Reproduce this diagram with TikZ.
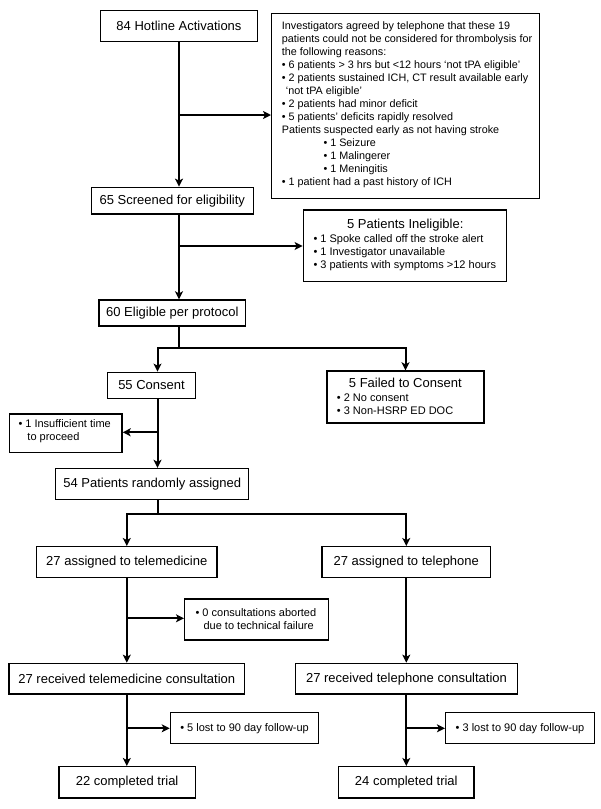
\documentclass[tikz,border=0pt]{standalone}
\usepackage{fontspec}
\setmainfont{Liberation Sans}
\usetikzlibrary{arrows.meta}
\newcommand\fbig{\fontsize{13}{15}\selectfont}
\newcommand\fsmall{\fontsize{11}{12.8}\selectfont}
\newcommand\fmid{\fontsize{10.8}{13.06}\selectfont}
\begin{document}
\begin{tikzpicture}[x=1pt,y=-1pt,
  box/.style 2 args={draw, line width=1.4pt, inner sep=0pt, minimum width=#1pt, minimum height=#2pt, font=\fbig},
  sm/.style={font=\fsmall, align=left, inner sep=0pt},
  md/.style={font=\fmid, align=left, inner sep=0pt},
  ttl/.style={font=\fbig, inner sep=0pt},
  ln/.style={line width=2pt},
  arr/.style={line width=2pt, -{Stealth[length=8pt,width=8pt,inset=2pt]}},
  arrb/.style={line width=2pt, {Stealth[length=8pt,width=8pt,inset=2pt]}-{Stealth[length=8pt,width=8pt,inset=2pt]}}]
\useasboundingbox (0,0) rectangle (601,809);
% boxes
\node[box={156.6}{30.6}] (hot) at (179,26) {84 Hotline Activations};
\node[box={267.6}{185}] (why) at (405.5,105.8) {};
\node[md, anchor=west] (whyT) at (281.7,104.6) {Investigators agreed by telephone that these 19\\
patients could not be considered for thrombolysis for\\
the following reasons:\\
• 6 patients > 3 hrs but <12 hours ‘not tPA eligible’\\
• 2 patients sustained ICH, CT result available early\\
\hspace*{4pt}‘not tPA eligible’\\
• 2 patients had minor deficit\\
• 5 patients’ deficits rapidly resolved\\
Patients suspected early as not having stroke\\
\hspace*{41.6pt}• 1 Seizure\\
\hspace*{41.6pt}• 1 Malingerer\\
\hspace*{41.6pt}• 1 Meningitis\\
• 1 patient had a past history of ICH};
\node[box={162}{26.7}] (scr) at (172.3,200.7) {65 Screened for eligibility};
\node[box={203.4}{71.7}] (inel) at (405,245.8) {};
\node[ttl] (inelT) at (405.3,225) {5 Patients Ineligible:};
\node[sm, anchor=west] (inelB) at (313.3,252.5) {• 1 Spoke called off the stroke alert\\• 1 Investigator unavailable\\• 3 patients with symptoms >12 hours};
\node[box={146.7}{26}] (elig) at (172.3,313) {60 Eligible per protocol};
\node[box={87.5}{26.2}] (cons) at (151.5,385.4) {55 Consent};
\node[box={157}{52}] (fail) at (405.5,397) {};
\node[ttl] (failT) at (405.3,383.3) {5 Failed to Consent};
\node[sm, anchor=west] (failB) at (336.7,404.2) {• 2 No consent\\• 3 Non-HSRP ED DOC};
\node[box={112.8}{38.3}] (insf) at (65.6,433.2) {};
\node[sm, anchor=west] (insfT) at (18.3,431.5) {• 1 Insufficient time\\\hspace*{9pt}to proceed};
\node[box={193}{31}] (rand) at (152.2,484) {54 Patients randomly assigned};
\node[box={180.3}{30.6}] (tele) at (126.8,562) {27 assigned to telemedicine};
\node[box={168.7}{30.6}] (phon) at (406.3,562) {27 assigned to telephone};
\node[box={144}{41}] (abrt) at (256.7,619.5) {};
\node[sm, anchor=west] (abrtT) at (195.4,619.2) {• 0 consultations aborted\\\hspace*{8pt}due to technical failure};
\node[box={235.7}{30.7}] (rtel) at (126.8,678.7) {27 received telemedicine consultation};
\node[box={222.3}{30.7}] (rpho) at (406.5,678.7) {27 received telephone consultation};
\node[box={148.3}{31}, font=\fsmall] (lst5) at (244.6,728.2) {• 5 lost to 90 day follow-up};
\node[box={148.7}{31}, font=\fsmall] (lst3) at (520,728.2) {• 3 lost to 90 day follow-up};
\node[box={136.2}{31.3}] (d22) at (127.1,782.3) {22 completed trial};
\node[box={135.7}{31.3}] (d24) at (406.3,782.3) {24 completed trial};
% columns and junctions
\coordinate (cA) at (179,0);
\coordinate (cB) at (157.5,0);
\coordinate (cL) at (126.8,0);
\coordinate (cR) at (406.3,0);
\coordinate (j1) at (179,115);
\coordinate (j2) at (179,246);
\coordinate (j3) at (179,348.3);
\coordinate (j4) at (157.5,432.3);
\coordinate (j5) at (157.5,514.3);
\coordinate (j6) at (126.8,618.3);
\coordinate (j7) at (126.8,728.3);
\coordinate (j8) at (406.3,728.3);
% connectors
\draw[arr] (hot.south) -- (hot.south |- scr.north);
\draw[arr] (j1) -- (j1 -| why.west);
\draw[arr] (cA |- scr.south) -- (cA |- elig.north);
\draw[arr] (j2) -- (j2 -| inel.west);
\draw[ln] (cA |- elig.south) -- (j3);
\draw[arrb] (cB |- cons.north) -- (cB |- j3) -- (j3 -| fail.north) -- (fail.north);
\draw[arr] (cB |- cons.south) -- (cB |- rand.north);
\draw[arr] (j4) -- (j4 -| insf.east);
\draw[ln] (cB |- rand.south) -- (j5);
\draw[arrb] (tele.north) -- (tele.north |- j5) -- (phon.north |- j5) -- (phon.north);
\draw[arr] (tele.south) -- (tele.south |- rtel.north);
\draw[arr] (j6) -- (j6 -| abrt.west);
\draw[arr] (phon.south) -- (phon.south |- rpho.north);
\draw[arr] (cL |- rtel.south) -- (cL |- d22.north);
\draw[arr] (j7) -- (j7 -| lst5.west);
\draw[arr] (cR |- rpho.south) -- (cR |- d24.north);
\draw[arr] (j8) -- (j8 -| lst3.west);
\end{tikzpicture}
\end{document}
